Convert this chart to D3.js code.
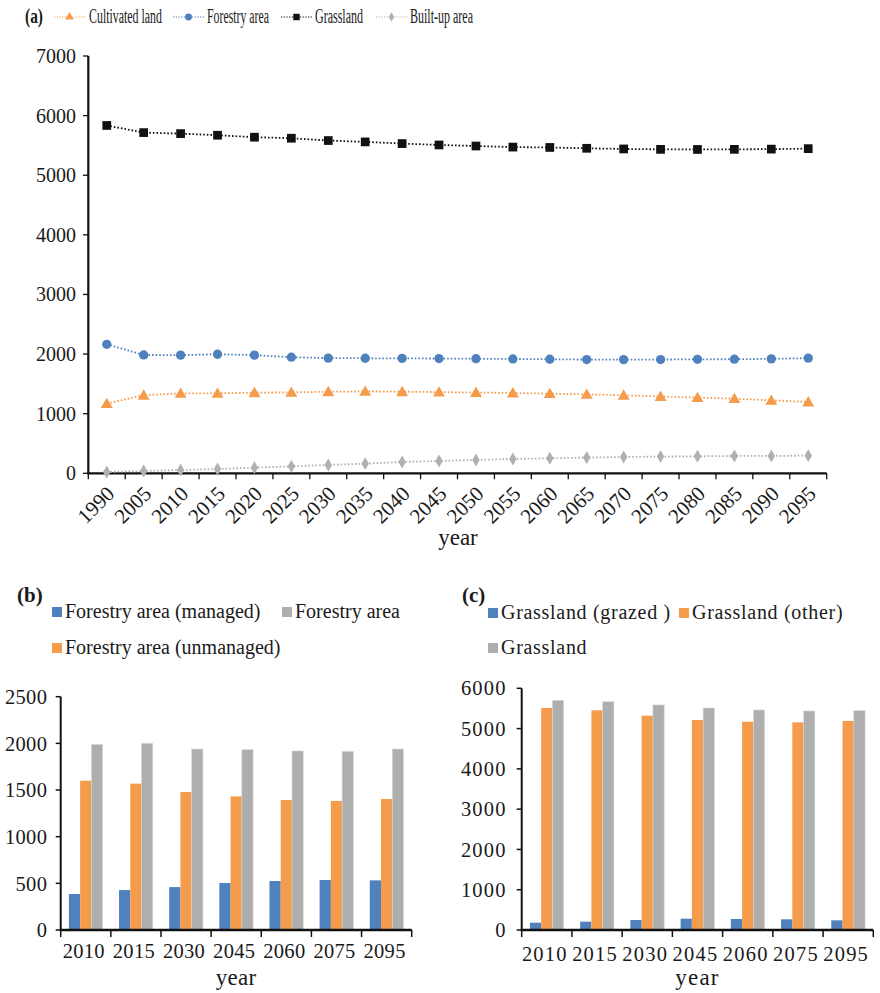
<!DOCTYPE html>
<html><head><meta charset="utf-8">
<script src="https://cdn.jsdelivr.net/npm/d3@7/dist/d3.min.js"></script>
</head>
<body style="margin:0;background:#fff">
<svg id="chart" width="880" height="993"></svg>
<script>
// ---------- DATA ----------
const yearsA = ["1990","2005","2010","2015","2020","2025","2030","2035","2040","2045","2050","2055","2060","2065","2070","2075","2080","2085","2090","2095"];
const cultivated = [1170,1310,1340,1342,1352,1358,1368,1374,1369,1362,1355,1347,1336,1325,1309,1288,1270,1252,1224,1196];
const forestry   = [2164,1985,1982,1997,1982,1948,1932,1930,1928,1925,1922,1918,1913,1908,1907,1908,1912,1914,1920,1932];
const grassland  = [5835,5715,5698,5671,5638,5621,5582,5559,5531,5508,5490,5472,5466,5452,5441,5434,5432,5434,5438,5446];
const builtup    = [22,39,55,72,95,117,140,162,190,207,224,240,252,263,274,280,285,291,292,296];
const yTicksA = [0,1000,2000,3000,4000,5000,6000,7000];
const seriesA = ["Cultivated land","Forestry area","Grassland","Built-up area"];

const yearsB = ["2010","2015","2030","2045","2060","2075","2095"];
const forestManaged   = [386,428,460,504,525,536,532];
const forestUnmanaged = [1600,1568,1479,1432,1393,1382,1404];
const forestTotal     = [1988,2000,1939,1932,1918,1914,1939];
const yTicksB = [0,500,1000,1500,2000,2500];
const seriesB = ["Forestry area (managed)","Forestry area (unmanaged)","Forestry area"];

const grassGrazed = [181,206,248,281,273,265,240];
const grassOther  = [5511,5454,5320,5213,5171,5155,5188];
const grassTotal  = [5702,5667,5586,5511,5461,5437,5445];
const yTicksC = [0,1000,2000,3000,4000,5000,6000];
const seriesC = ["Grassland (grazed )","Grassland (other)","Grassland"];

// ---------- STYLE ----------
const ORANGE="#F59B4C", BLUE="#4F81BD", BLACK="#111", GREY="#B0B0B0", BARGREY="#AEAEAE";
const svg = d3.select("#chart");
const TXT = "#1a1a1a";

// ---------- PANEL A ----------
(function(){
  const x = d3.scaleBand().domain(yearsA).range([88.3, 826.7]);
  const y = d3.scaleLinear().domain([0,7000]).range([473.3, 56]);
  const g = svg.append("g");
  g.append("line").attr("x1",88.3).attr("x2",88.3).attr("y1",y(7000)).attr("y2",y(0)).attr("stroke","#111").attr("stroke-width",2.2);
  yTicksA.forEach(t=>{
    g.append("line").attr("x1",83).attr("x2",88.3).attr("y1",y(t)).attr("y2",y(t)).attr("stroke","#111").attr("stroke-width",1.3);
    g.append("text").attr("x",76).attr("y",y(t)).attr("dy","0.35em").attr("text-anchor","end").attr("font-size",20).attr("fill",TXT).text(t);
  });
  g.append("line").attr("x1",87.2).attr("x2",826.7).attr("y1",y(0)).attr("y2",y(0)).attr("stroke","#111").attr("stroke-width",2.2);
  const bounds = yearsA.map(d=>x(d)).concat([x(yearsA[yearsA.length-1])+x.bandwidth()]);
  bounds.forEach(b=>{
    g.append("line").attr("x1",b).attr("x2",b).attr("y1",y(0)).attr("y2",y(0)+6).attr("stroke","#111").attr("stroke-width",1.3);
  });
  yearsA.forEach(d=>{
    const cx = x(d)+x.bandwidth()/2;
    g.append("text").attr("transform",`translate(${cx+9},${495}) rotate(-45)`).attr("text-anchor","end").attr("font-size",21).attr("fill",TXT).text(d);
  });
  g.append("text").attr("x",458).attr("y",545).attr("text-anchor","middle").attr("font-size",23).attr("fill",TXT).text("year");

  const cx = d => x(d)+x.bandwidth()/2;
  const data = [
    {name:seriesA[0], vals:cultivated, color:ORANGE, shape:d3.symbolTriangle, size:62},
    {name:seriesA[1], vals:forestry, color:BLUE, shape:d3.symbolCircle, size:68},
    {name:seriesA[2], vals:grassland, color:BLACK, shape:d3.symbolSquare, size:76},
    {name:seriesA[3], vals:builtup, color:GREY, shape:d3.symbolDiamond, size:48}
  ];
  const line = d3.line().x((v,i)=>cx(yearsA[i])).y(v=>y(v));
  data.forEach(s=>{
    g.append("path").attr("d",line(s.vals)).attr("fill","none").attr("stroke",s.color).attr("stroke-width",1.8).attr("stroke-dasharray","1.6,2");
    s.vals.forEach((v,i)=>{
      g.append("path").attr("d",d3.symbol().type(s.shape).size(s.size)())
        .attr("transform",`translate(${cx(yearsA[i])},${y(v)+(s.shape===d3.symbolTriangle?1:0)})`).attr("fill",s.color);
    });
  });
  svg.append("text").attr("x",25).attr("y",23).attr("font-size",21).attr("font-weight","bold").attr("fill",TXT)
     .attr("textLength",18).attr("lengthAdjust","spacingAndGlyphs").text("(a)");
  const leg = [
    {lx:54, tx:89, tw:73},
    {lx:173, tx:207, tw:62},
    {lx:281, tx:315, tw:48},
    {lx:376, tx:410, tw:63}
  ];
  data.forEach((s,i)=>{
    const L = leg[i];
    svg.append("line").attr("x1",L.lx).attr("x2",L.lx+31).attr("y1",17).attr("y2",17).attr("stroke",s.color).attr("stroke-width",1.2).attr("stroke-dasharray","1.2,1.5");
    svg.append("path").attr("d",d3.symbol().type(s.shape).size(s.size*0.55)()).attr("transform",`translate(${L.lx+15.5},${17})`).attr("fill",s.color);
    svg.append("text").attr("x",L.tx).attr("y",23).attr("font-size",20).attr("fill",TXT)
       .attr("textLength",L.tw).attr("lengthAdjust","spacingAndGlyphs").text(s.name);
  });
})();

// ---------- BAR PANELS ----------
function barPanel(opt){
  const x = d3.scaleBand().domain(yearsB).range(opt.xr).paddingInner(0.327).paddingOuter(0.1635);
  const y = d3.scaleLinear().domain([0,opt.max]).range([930, opt.ytop]);
  const inner = d3.scaleBand().domain([0,1,2]).range([0,x.bandwidth()]);
  const g = svg.append("g");
  const colors=[BLUE,ORANGE,BARGREY];
  opt.series.forEach((vals,si)=>{
    g.selectAll(null).data(vals).enter().append("rect")
      .attr("x",(v,i)=>x(yearsB[i])+inner(si)).attr("width",inner.bandwidth())
      .attr("y",v=>y(v)).attr("height",v=>y(0)-y(v))
      .attr("fill",colors[si]).attr("stroke",si===2?"#d8d8d8":"none").attr("stroke-width",0.6);
  });
  const x0=opt.xr[0], x1=opt.xr[1];
  g.append("line").attr("x1",x0).attr("x2",x0).attr("y1",y(opt.max)).attr("y2",y(0)).attr("stroke","#111").attr("stroke-width",2);
  opt.ticks.forEach(t=>{
    g.append("line").attr("x1",x0-5).attr("x2",x0).attr("y1",y(t)).attr("y2",y(t)).attr("stroke","#111").attr("stroke-width",1.5);
    g.append("text").attr("x",x0-opt.lgap).attr("y",y(t)).attr("dy","0.35em").attr("text-anchor","end").attr("fill",TXT)
      .attr("font-size",20.5).attr("letter-spacing",opt.ls).text(t);
  });
  g.append("line").attr("x1",x0-1).attr("x2",x1).attr("y1",y(0)).attr("y2",y(0)).attr("stroke","#111").attr("stroke-width",2.4);
  const bounds = yearsB.map(d=>x(d)-x.step()*0.1635).concat([x1]);
  bounds.forEach(b=>{
    g.append("line").attr("x1",b).attr("x2",b).attr("y1",y(0)).attr("y2",y(0)+7).attr("stroke","#111").attr("stroke-width",1.5);
  });
  yearsB.forEach(d=>{
    g.append("text").attr("x",x(d)+x.bandwidth()/2-2).attr("y",opt.labY).attr("text-anchor","middle").attr("fill",TXT)
      .attr("font-size",20.5).attr("letter-spacing",opt.ls).text(d);
  });
  g.append("text").attr("x",(x0+x1)/2).attr("y",985).attr("text-anchor","middle").attr("font-size",23).attr("fill",TXT).attr("letter-spacing",opt.ls).text("year");
  svg.append("text").attr("x",opt.title[1]).attr("y",602).attr("font-size",21).attr("font-weight","bold").attr("fill",TXT).text(opt.title[0]);
  opt.legend.forEach(L=>{
    svg.append("rect").attr("x",L.x).attr("y",L.y-11).attr("width",10).attr("height",10).attr("fill",colors[L.c]);
    svg.append("text").attr("x",L.x+13).attr("y",L.y).attr("font-size",20).attr("fill",TXT).attr("letter-spacing",opt.lls).text(opt.names[L.c]);
  });
}
barPanel({xr:[60.7,411.7], ytop:696.7, max:2500, ticks:yTicksB, series:[forestManaged,forestUnmanaged,forestTotal],
  lgap:13.5, ls:0.3, lls:0, labY:957.5, title:["(b)",17], names:seriesB,
  legend:[{x:52,y:618,c:0},{x:282,y:618,c:2},{x:52,y:654,c:1}]});
barPanel({xr:[521.7,873.3], ytop:688.3, max:6000, ticks:yTicksC, series:[grassGrazed,grassOther,grassTotal],
  lgap:15, ls:1.2, lls:0.7, labY:961, title:["(c)",462], names:seriesC,
  legend:[{x:488,y:619,c:0},{x:679,y:619,c:1},{x:488,y:654,c:2}]});

svg.selectAll("text").style("font-family","Liberation Serif").attr("font-family","Liberation Serif");
</script></body></html>
